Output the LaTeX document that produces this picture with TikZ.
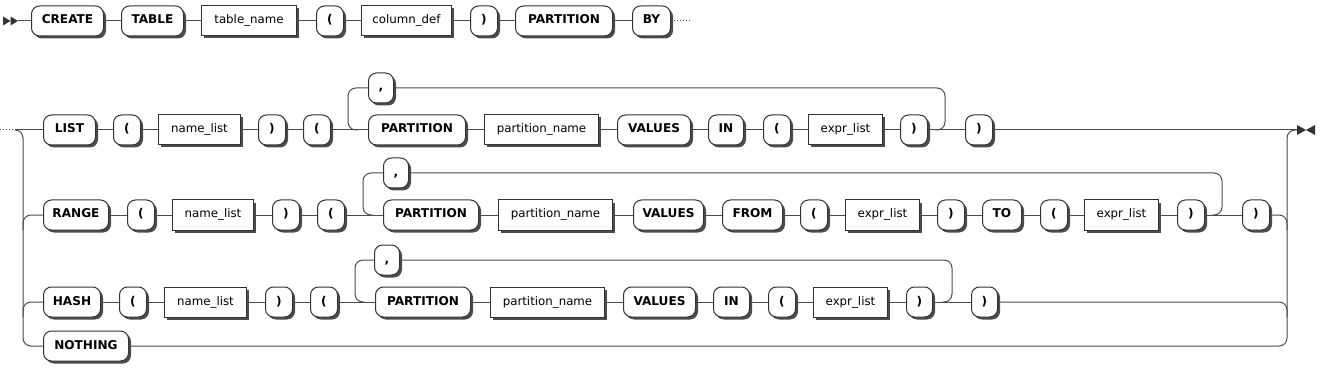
\documentclass[tikz,border=0pt]{standalone}
\usepackage{fontspec}
\setmainfont{DejaVu Sans}
\usetikzlibrary{shadows}
\newcommand\Kw[5]{\node[kwbox, minimum width=#3pt] (#1) at (#2,#4) {#5};}
\newcommand\Nt[5]{\node[ntbox, minimum width=#3pt] (#1) at (#2,#4) {#5};}
\begin{document}
\begin{tikzpicture}[x=1pt,y=-1pt,
 basebox/.style={draw=black!80, fill=white, line width=1pt, inner sep=0pt, minimum height=30pt,
   anchor=west, text height=9pt, text depth=3pt, font=\fontsize{11.8}{13}\selectfont,
   drop shadow={shadow xshift=2.5pt, shadow yshift=-2.5pt, fill=black!70, opacity=1}},
 kwbox/.style={basebox, rounded corners=8pt, font=\fontsize{12.1}{13}\selectfont\bfseries},
 ntbox/.style={basebox},
 rr/.style={draw=black!70, line width=1pt},
 rrbend/.style={rr, rounded corners=8pt}]
\useasboundingbox (0,0) rectangle (1326,377);

% ---------- row 0 ----------
\Kw{c1}{31}{72}{21}{CREATE}
\Kw{c2}{121}{62}{21}{TABLE}
\Nt{c3}{201}{95}{21}{table\_name}
\Kw{c4}{316}{27}{21}{(}
\Nt{c5}{361}{90}{21}{column\_def}
\Kw{c6}{470}{27}{21}{)}
\Kw{c7}{515}{97}{21}{PARTITION}
\Kw{c8}{632}{38}{21}{BY}
\coordinate (st) at (18,21);
\coordinate (cont) at (690,21);
\fill[black!80] (st) ++(-15,-4.5) -- ++(7.5,4.5) -- ++(-7.5,4.5) -- cycle;
\fill[black!80] (st) ++(-7.5,-4.5) -- ++(7.5,4.5) -- ++(-7.5,4.5) -- cycle;
\draw[rr] (st) -- (c1.west);
\draw[rr] (c1.east) -- (c2.west);
\draw[rr] (c2.east) -- (c3.west);
\draw[rr] (c3.east) -- (c4.west);
\draw[rr] (c4.east) -- (c5.west);
\draw[rr] (c5.east) -- (c6.west);
\draw[rr] (c6.east) -- (c7.west);
\draw[rr] (c7.east) -- (c8.west);
\draw[rr, dotted] (c8.east) -- (cont);

% ---------- row LIST ----------
\Kw{l1}{43}{52}{130}{LIST}
\Kw{l2}{113}{27}{130}{(}
\Nt{l3}{158}{82}{130}{name\_list}
\Kw{l4}{258}{27}{130}{)}
\Kw{l5}{303}{27}{130}{(}
\Kw{lc}{368}{25}{88}{,}
\Kw{l6}{368}{97}{130}{PARTITION}
\Nt{l7}{484}{114}{130}{partition\_name}
\Kw{l8}{617}{73}{130}{VALUES}
\Kw{l9}{708}{35}{130}{IN}
\Kw{l10}{763}{27}{130}{(}
\Nt{l11}{808}{74}{130}{expr\_list}
\Kw{l12}{900}{27}{130}{)}
\Kw{l13}{965}{27}{130}{)}
\coordinate (lL) at (348,130);
\coordinate (lR) at (945,130);
\draw[rr] (l1.east) -- (l2.west);
\draw[rr] (l2.east) -- (l3.west);
\draw[rr] (l3.east) -- (l4.west);
\draw[rr] (l4.east) -- (l5.west);
\draw[rr] (l5.east) -- (l6.west);
\draw[rr] (l6.east) -- (l7.west);
\draw[rr] (l7.east) -- (l8.west);
\draw[rr] (l8.east) -- (l9.west);
\draw[rr] (l9.east) -- (l10.west);
\draw[rr] (l10.east) -- (l11.west);
\draw[rr] (l11.east) -- (l12.west);
\draw[rr] (l12.east) -- (l13.west);
\draw[rrbend] ([xshift=10pt]lL) -- (lL) -- (lL |- lc) -- (lc.west);
\draw[rrbend] (lc.east) -- (lR |- lc) -- (lR) -- ([xshift=-10pt]lR);

% ---------- row RANGE ----------
\Kw{r1}{43}{65}{215}{RANGE}
\Kw{r2}{127}{27}{215}{(}
\Nt{r3}{172}{81}{215}{name\_list}
\Kw{r4}{272}{27}{215}{)}
\Kw{r5}{317}{27}{215}{(}
\Kw{rc}{383}{25}{173}{,}
\Kw{r6}{383}{95}{215}{PARTITION}
\Nt{r7}{498}{114}{215}{partition\_name}
\Kw{r8}{633}{70}{215}{VALUES}
\Kw{r9}{722}{60}{215}{FROM}
\Kw{r10}{800}{27}{215}{(}
\Nt{r11}{845}{74}{215}{expr\_list}
\Kw{r12}{937}{27}{215}{)}
\Kw{r13}{982}{39}{215}{TO}
\Kw{r14}{1040}{27}{215}{(}
\Nt{r15}{1084}{74}{215}{expr\_list}
\Kw{r16}{1177}{27}{215}{)}
\Kw{r17}{1242}{27}{215}{)}
\coordinate (rL) at (363,215);
\coordinate (rR) at (1222,215);
\draw[rr] (r1.east) -- (r2.west);
\draw[rr] (r2.east) -- (r3.west);
\draw[rr] (r3.east) -- (r4.west);
\draw[rr] (r4.east) -- (r5.west);
\draw[rr] (r5.east) -- (r6.west);
\draw[rr] (r6.east) -- (r7.west);
\draw[rr] (r7.east) -- (r8.west);
\draw[rr] (r8.east) -- (r9.west);
\draw[rr] (r9.east) -- (r10.west);
\draw[rr] (r10.east) -- (r11.west);
\draw[rr] (r11.east) -- (r12.west);
\draw[rr] (r12.east) -- (r13.west);
\draw[rr] (r13.east) -- (r14.west);
\draw[rr] (r14.east) -- (r15.west);
\draw[rr] (r15.east) -- (r16.west);
\draw[rr] (r16.east) -- (r17.west);
\draw[rrbend] ([xshift=10pt]rL) -- (rL) -- (rL |- rc) -- (rc.west);
\draw[rrbend] (rc.east) -- (rR |- rc) -- (rR) -- ([xshift=-10pt]rR);

% ---------- row HASH ----------
\Kw{h1}{43}{57}{302}{HASH}
\Kw{h2}{119}{27}{302}{(}
\Nt{h3}{164}{82}{302}{name\_list}
\Kw{h4}{265}{27}{302}{)}
\Kw{h5}{310}{27}{302}{(}
\Kw{hc}{374}{25}{260}{,}
\Kw{h6}{375}{95}{302}{PARTITION}
\Nt{h7}{490}{114}{302}{partition\_name}
\Kw{h8}{623}{72}{302}{VALUES}
\Kw{h9}{713}{36}{302}{IN}
\Kw{h10}{768}{27}{302}{(}
\Nt{h11}{813}{74}{302}{expr\_list}
\Kw{h12}{906}{26}{302}{)}
\Kw{h13}{971}{26}{302}{)}
\coordinate (hL) at (355,302);
\coordinate (hR) at (952,302);
\draw[rr] (h1.east) -- (h2.west);
\draw[rr] (h2.east) -- (h3.west);
\draw[rr] (h3.east) -- (h4.west);
\draw[rr] (h4.east) -- (h5.west);
\draw[rr] (h5.east) -- (h6.west);
\draw[rr] (h6.east) -- (h7.west);
\draw[rr] (h7.east) -- (h8.west);
\draw[rr] (h8.east) -- (h9.west);
\draw[rr] (h9.east) -- (h10.west);
\draw[rr] (h10.east) -- (h11.west);
\draw[rr] (h11.east) -- (h12.west);
\draw[rr] (h12.east) -- (h13.west);
\draw[rrbend] ([xshift=10pt]hL) -- (hL) -- (hL |- hc) -- (hc.west);
\draw[rrbend] (hc.east) -- (hR |- hc) -- (hR) -- ([xshift=-10pt]hR);

% ---------- row NOTHING ----------
\Kw{n1}{43}{85}{346}{NOTHING}

% ---------- buses ----------
\coordinate (s2) at (0,130);
\coordinate (s2b) at (15,130);
\coordinate (busL) at (23,130);
\coordinate (busR) at (1287,130);
\coordinate (fin) at (1297,130);
\draw[rr, dotted] (s2) -- (s2b);
\draw[rr] (s2b) -- (l1.west);
\draw[rrbend] (s2b) -- (busL) -- (busL |- n1) -- (n1.west);
\draw[rrbend] ([yshift=-15pt]busL |- r1) -- (busL |- r1) -- (r1.west);
\draw[rrbend] ([yshift=-15pt]busL |- h1) -- (busL |- h1) -- (h1.west);
\draw[rr] (l13.east) -- (fin);
\draw[rrbend] (n1.east) -- (busR |- n1) -- (busR) -- (fin);
\draw[rrbend] (r17.east) -- (busR |- r17) -- ([yshift=-15pt]busR |- r17);
\draw[rrbend] (h13.east) -- (busR |- h13) -- ([yshift=-15pt]busR |- h13);
\fill[black!80] (fin) ++(0,-5) -- ++(9,5) -- ++(-9,5) -- cycle;
\fill[black!80] (fin) ++(18,-5) -- ++(-9,5) -- ++(9,5) -- cycle;
\end{tikzpicture}
\end{document}
